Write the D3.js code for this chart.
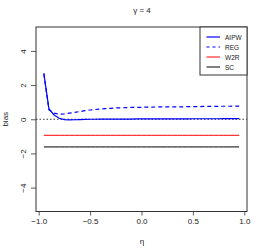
<!DOCTYPE html>
<html>
<head>
<meta charset="utf-8">
<script src="https://cdn.jsdelivr.net/npm/d3@7"></script>
<style>
  body { margin: 0; background: #fff; }
  svg { display: block; }
  text { font-family: "Liberation Sans", Arial, sans-serif; fill: #222; }
</style>
</head>
<body>
<svg id="chart" width="266" height="248"></svg>
<script>
// eta grid
var eta = [-0.95, -0.9, -0.85, -0.8, -0.75, -0.7, -0.65, -0.6, -0.55, -0.5,
           -0.45, -0.4, -0.35, -0.3, -0.25, -0.2, -0.15, -0.1, -0.05, 0,
           0.05, 0.1, 0.15, 0.2, 0.25, 0.3, 0.35, 0.4, 0.45, 0.5,
           0.55, 0.6, 0.65, 0.7, 0.75, 0.8, 0.85, 0.9, 0.95];

// bias by method
var aipw = [2.7, 0.6, 0.25, 0.06, -0.02, -0.04, -0.03, -0.02, -0.01, 0,
            0, 0.01, 0.01, 0.01, 0.01, 0.01, 0.01, 0.01, 0.02, 0.02,
            0.02, 0.02, 0.02, 0.02, 0.02, 0.02, 0.02, 0.02, 0.02, 0.03,
            0.03, 0.03, 0.03, 0.03, 0.03, 0.04, 0.04, 0.04, 0.04];
var reg  = [2.65, 0.55, 0.36, 0.3, 0.32, 0.36, 0.4, 0.45, 0.5, 0.54,
            0.57, 0.6, 0.62, 0.64, 0.66, 0.67, 0.68, 0.69, 0.7, 0.7,
            0.71, 0.71, 0.72, 0.72, 0.72, 0.73, 0.73, 0.73, 0.74, 0.74,
            0.74, 0.75, 0.75, 0.75, 0.76, 0.76, 0.76, 0.77, 0.77];
var w2r = eta.map(function() { return -0.94; });
var sc  = eta.map(function() { return -1.62; });

var xTicks = [-1, -0.5, 0, 0.5, 1];
var yTicks = [-4, -2, 0, 2, 4];

var series = [
  {name: "AIPW", values: aipw, color: "#0000ff", dash: null, width: 1.2},
  {name: "REG",  values: reg,  color: "#0000ff", dash: "4,3", width: 1.2},
  {name: "W2R",  values: w2r,  color: "#ff0000", dash: null, width: 1},
  {name: "SC",   values: sc,   color: "#000000", dash: null, width: 1}
];

var svg = d3.select("#chart");
var pLeft = 36, pRight = 247, pTop = 27, pBottom = 211.5;

var x = d3.scaleLinear().domain([-1.026, 1.026]).range([pLeft, pRight]);
var y = d3.scaleLinear().domain([-5.4, 5.4]).range([pBottom, pTop]);

// zero reference line
svg.append("line")
    .attr("x1", pLeft).attr("x2", pRight)
    .attr("y1", y(0)).attr("y2", y(0))
    .attr("stroke", "#000").attr("stroke-width", 0.8)
    .attr("stroke-dasharray", "1.5,2");

var line = d3.line()
    .x(function(d) { return x(d[0]); })
    .y(function(d) { return y(d[1]); });

series.forEach(function(s) {
  svg.append("path")
      .datum(eta.map(function(e, i) { return [e, s.values[i]]; }))
      .attr("d", line)
      .attr("fill", "none")
      .attr("stroke", s.color)
      .attr("stroke-width", s.width)
      .attr("stroke-dasharray", s.dash);
});

// axes
var xAxis = svg.append("g")
    .attr("transform", "translate(0," + pBottom + ")")
    .call(d3.axisBottom(x).tickValues(xTicks).tickSize(4).tickPadding(3)
      .tickFormat(function(d) { return d3.format(".1f")(d).replace("-", "\u2212"); }));
xAxis.select(".domain").remove();
xAxis.selectAll("text").attr("font-size", 8).attr("fill", "#222")
    .attr("font-family", "Liberation Sans, Arial, sans-serif");

var yAxis = svg.append("g")
    .attr("transform", "translate(" + pLeft + ",0)")
    .call(d3.axisLeft(y).tickValues(yTicks).tickSize(5).tickPadding(3)
      .tickFormat(function(d) { return String(d).replace("-", "\u2212"); }));
yAxis.select(".domain").remove();
yAxis.selectAll("text")
    .attr("font-size", 8).attr("fill", "#222")
    .attr("font-family", "Liberation Sans, Arial, sans-serif")
    .attr("text-anchor", "middle")
    .attr("x", 0).attr("y", 0).attr("dy", 0)
    .attr("transform", "translate(-10,0) rotate(-90)");

svg.selectAll(".tick line").attr("stroke", "#333").attr("stroke-width", 0.8);

// plot box
svg.append("rect")
    .attr("x", pLeft).attr("y", pTop)
    .attr("width", pRight - pLeft).attr("height", pBottom - pTop)
    .attr("fill", "none").attr("stroke", "#333").attr("stroke-width", 1);

// labels
svg.append("text").attr("x", 142).attr("y", 12.5)
    .attr("text-anchor", "middle").attr("font-size", 8).text("\u03b3 = 4");
svg.append("text").attr("x", 142).attr("y", 244)
    .attr("text-anchor", "middle").attr("font-size", 8).text("\u03b7");
svg.append("text")
    .attr("transform", "translate(8," + y(0) + ") rotate(-90)")
    .attr("text-anchor", "middle").attr("font-size", 8).text("bias");

// legend
var lg = svg.append("g");
lg.append("rect")
    .attr("x", 200).attr("y", pTop)
    .attr("width", pRight - 200).attr("height", 48)
    .attr("fill", "#fff").attr("stroke", "#333").attr("stroke-width", 1);
series.forEach(function(s, i) {
  var yy = 37 + i * 10;
  lg.append("line")
      .attr("x1", 206.5).attr("x2", 220)
      .attr("y1", yy).attr("y2", yy)
      .attr("stroke", s.color).attr("stroke-width", s.width)
      .attr("stroke-dasharray", s.dash ? "3,3" : null);
  lg.append("text")
      .attr("x", 225).attr("y", yy + 2.5)
      .attr("font-size", 6.5).text(s.name);
});
</script>
</body>
</html>
